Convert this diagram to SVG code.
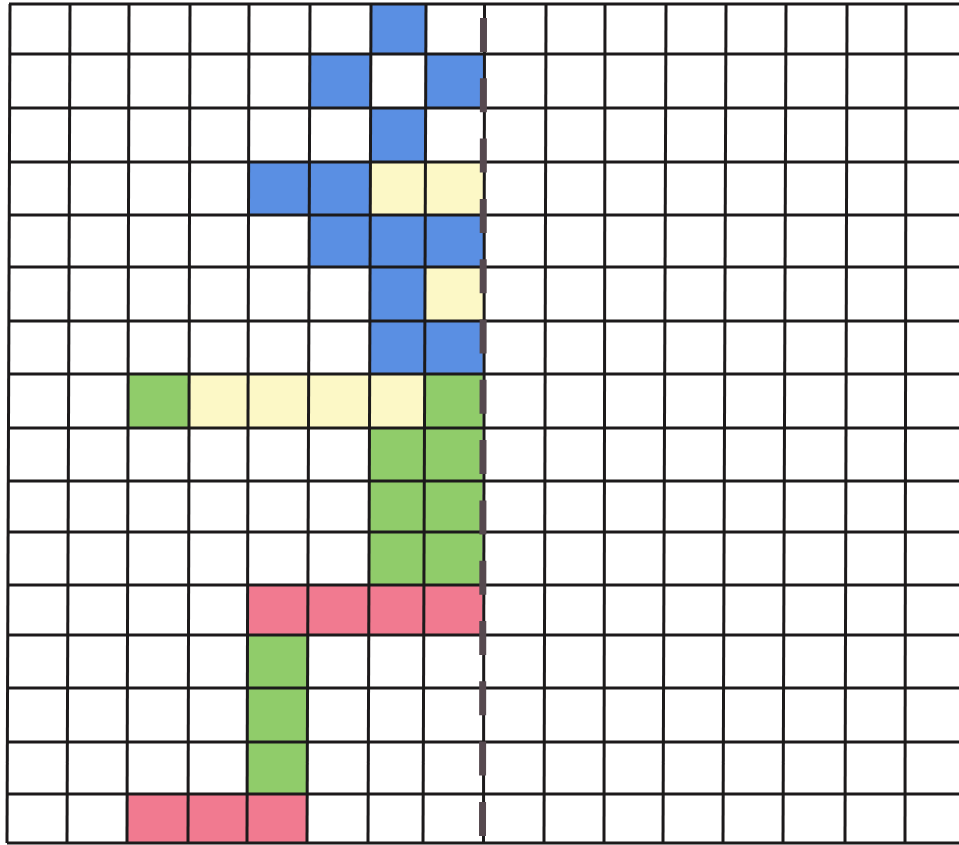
<svg xmlns="http://www.w3.org/2000/svg" width="959" height="845" viewBox="0 0 959 845">
<style>
.b{fill:#5a8fe3}.y{fill:#fcf8c6}.g{fill:#90cc6a}.p{fill:#f17a90}
.gl{stroke:#1c1a1b;stroke-width:3;fill:none}
</style>
<rect width="959" height="845" fill="#ffffff"/>
<g id="cells">
<rect class="b" x="371" y="4" width="55" height="50"/>
<rect class="b" x="310" y="54" width="61" height="54"/>
<rect class="b" x="426" y="54" width="57" height="54"/>
<rect class="b" x="370.5" y="108" width="55" height="54"/>
<rect class="b" x="248.5" y="162" width="122" height="53"/>
<rect class="y" x="370.5" y="162" width="112.5" height="53"/>
<rect class="b" x="309" y="215" width="174" height="52"/>
<rect class="b" x="370" y="267" width="55" height="54"/>
<rect class="y" x="425" y="267" width="58" height="54"/>
<rect class="b" x="369.8" y="321" width="113" height="53"/>
<rect class="g" x="128.3" y="374" width="61" height="54"/>
<rect class="y" x="189.3" y="374" width="235.4" height="54"/>
<rect class="g" x="424.7" y="374" width="58" height="54"/>
<rect class="g" x="369.3" y="428" width="113.2" height="157"/>
<rect class="p" x="247.5" y="585" width="235" height="50"/>
<rect class="g" x="247.4" y="635" width="60.3" height="159"/>
<rect class="p" x="127.1" y="794" width="180.3" height="49"/>
</g>
<g id="grid" class="gl">
<line x1="10" y1="4" x2="7" y2="843"/>
<line x1="70" y1="4" x2="67" y2="843"/>
<line x1="129" y1="4" x2="127" y2="843"/>
<line x1="190" y1="4" x2="188" y2="843"/>
<line x1="249" y1="4" x2="247" y2="843"/>
<line x1="310" y1="4" x2="307" y2="843"/>
<line x1="371" y1="4" x2="368" y2="843"/>
<line x1="426" y1="4" x2="423" y2="843"/>
<line x1="484.5" y1="4" x2="483.5" y2="843"/>
<line x1="546" y1="4" x2="544" y2="843"/>
<line x1="605" y1="4" x2="604" y2="843"/>
<line x1="666" y1="4" x2="663" y2="843"/>
<line x1="726" y1="4" x2="723" y2="843"/>
<line x1="786" y1="4" x2="783" y2="843"/>
<line x1="847" y1="4" x2="845" y2="843"/>
<line x1="906" y1="4" x2="905" y2="843"/>
<line x1="9" y1="4" x2="959" y2="4"/>
<line x1="9" y1="54" x2="959" y2="54"/>
<line x1="9" y1="108" x2="959" y2="108"/>
<line x1="9" y1="162" x2="959" y2="162"/>
<line x1="9" y1="215" x2="959" y2="215"/>
<line x1="9" y1="267" x2="959" y2="267"/>
<line x1="9" y1="321" x2="959" y2="321"/>
<line x1="9" y1="374" x2="959" y2="374"/>
<line x1="8" y1="428" x2="959" y2="428"/>
<line x1="8" y1="481" x2="959" y2="481"/>
<line x1="8" y1="532" x2="959" y2="532"/>
<line x1="8" y1="585" x2="959" y2="585"/>
<line x1="8" y1="635" x2="959" y2="635"/>
<line x1="7" y1="688" x2="959" y2="688"/>
<line x1="7" y1="742" x2="959" y2="742"/>
<line x1="7" y1="794" x2="959" y2="794"/>
<line x1="7" y1="843" x2="959" y2="843"/>
</g>
<g id="connectors">
<line x1="483.5" y1="18" x2="482.5" y2="843" stroke="#56494f" stroke-width="7" stroke-dasharray="34 26.3"/>
</g>
</svg>
